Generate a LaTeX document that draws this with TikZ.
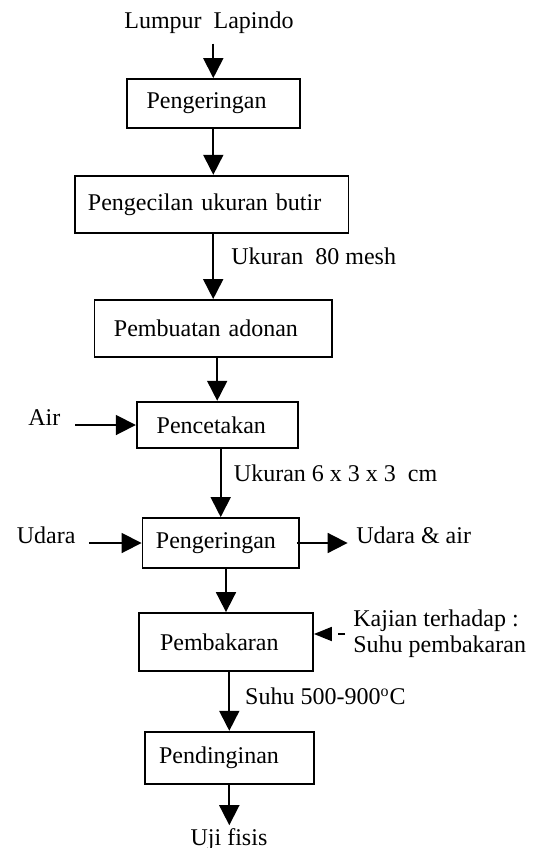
\documentclass[tikz,border=0pt]{standalone}
\usepackage{fontspec}
\setmainfont{Liberation Serif}
\usetikzlibrary{arrows.meta}
\newcommand\colorFlow{black}
\newcommand\flowWidth{0.9pt}
\newcommand\headLength{10pt}
\newcommand\headWidth{10pt}
\tikzset{
	stepbox/.style={draw=\colorFlow, line width=\flowWidth, align=left, inner ysep=0pt},
	flow/.style={draw=\colorFlow, line width=\flowWidth, -{Triangle[length=\headLength, width=\headWidth]}},
	studyflow/.style={draw=\colorFlow, line width=\flowWidth, -{Triangle[length=9pt, width=7pt]}, dash pattern=on 3.5pt off 3pt, dash phase=3.5pt},
	lbl/.style={inner sep=0pt, anchor=base west},
}

\begin{document}
\begin{tikzpicture}[x=0.5pt, y=-0.5pt, every node/.style={font=\fontsize{12pt}{13pt}\selectfont}]
	\useasboundingbox (0,0) rectangle (538,848);
	
	\node[inner sep=0pt, anchor=base] (lumpur) at (209,28) {Lumpur\ \ Lapindo};
	\node[inner sep=0pt, anchor=base] (uji) at (229,845.5) {Uji fisis};
	
	\node[stepbox, text width=66.7pt, inner xsep=10pt, minimum height=24.5pt] (dry1) at (213.3,103.5) {Pengeringan};
	\node[stepbox, text width=123.7pt, inner xsep=6.5pt, minimum height=28.8pt] (grind) at (211.7,204.5) {Pengecilan ukuran butir};
	\node[stepbox, text width=99.25pt, inner xsep=9.75pt, minimum height=28.35pt] (mix) at (213.2,328.3) {Pembuatan adonan};
	\node[stepbox, text width=60.5pt, inner xsep=10pt, minimum height=23.3pt] (mold) at (217.2,425) {Pencetakan};
	\node[stepbox, text width=64.75pt, inner xsep=6.75pt, minimum height=25pt] (dry2) at (220.7,543) {Pengeringan};
	\node[stepbox, text width=66pt, inner xsep=10.5pt, minimum height=29pt] (burn) at (226,642) {Pembakaran};
	\node[stepbox, text width=70.3pt, inner xsep=7.1pt, minimum height=26.1pt] (cool) at (229.3,757.8) {Pendinginan};
	
	\node[lbl] (meshLbl) at (231,264) {Ukuran\ \ 80 mesh};
	\node[lbl] (sizeLbl) at (233.6,481) {Ukuran 6 x 3 x 3\ \ cm};
	\node[lbl] (tempLbl) at (244.8,704.7) {Suhu 500-900\textsuperscript{o}C};
	\node[lbl] (air) at (28,425.7) {Air};
	\node[lbl] (udaraIn) at (16.4,543) {Udara};
	\node[lbl] (udaraOut) at (356,543) {Udara \& air};
	\node[inner sep=0pt, anchor=west, align=left] (kajian) at (353,634) {Kajian terhadap :\\Suhu pembakaran};
	
	\draw[flow, shorten <=5pt] (dry1.north |- lumpur.south) -- (dry1.north);
	\draw[flow] (dry1.south) -- (dry1.south |- grind.north);
	\draw[flow] (mix.north |- grind.south) -- (mix.north);
	\draw[flow] (mold.north |- mix.south) -- (mold.north);
	\draw[flow] (dry2.north |- mold.south) -- (dry2.north);
	\draw[flow] (burn.north |- dry2.south) -- (burn.north);
	\draw[flow] (cool.north |- burn.south) -- (cool.north);
	\draw[flow, shorten >=1.5pt] (cool.south) -- (cool.south |- uji.north);
	
	\draw[flow, shorten <=7.3pt] (air.east |- mold.west) -- (mold.west);
	\draw[flow, shorten <=6.5pt] (udaraIn.east |- dry2.west) -- (dry2.west);
	\draw[flow, shorten <=-1.5pt, shorten >=4.2pt] (dry2.east) -- (dry2.east -| udaraOut.west);
	\draw[studyflow, shorten <=1pt] (kajian.west) -- (kajian.west -| burn.east);
\end{tikzpicture}
\end{document}
